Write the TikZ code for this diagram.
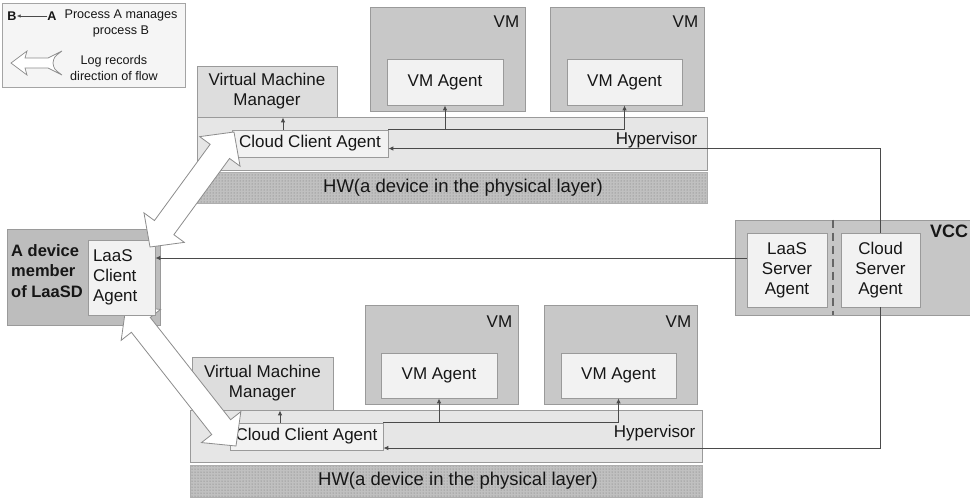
\documentclass[tikz,border=0pt]{standalone}
\usepackage{fontspec}
\setmainfont{Liberation Sans}
\usetikzlibrary{arrows.meta,calc,patterns}
\definecolor{edgec}{HTML}{9A9A9A}
\definecolor{vmfill}{HTML}{C8C8C8}
\definecolor{agentfill}{HTML}{F2F2F2}
\definecolor{hypfill}{HTML}{E6E6E6}
\definecolor{vmmfill}{HTML}{DDDDDD}
\definecolor{devfill}{HTML}{BDBDBD}
\definecolor{vccfill}{HTML}{C6C6C6}
\definecolor{legfill}{HTML}{F5F5F5}
\definecolor{hwfill}{HTML}{C0C0C0}
\definecolor{hwdot}{HTML}{727272}
\definecolor{linec}{HTML}{4A4A4A}
\definecolor{txtc}{HTML}{161616}
\definecolor{arrowedge}{HTML}{8C8C8C}
\newcommand\hollowtwoarrow[2]{%
  \coordinate (h1) at ($(#1)!24pt!(#2)$);
  \coordinate (h2) at ($(#2)!24pt!(#1)$);
  \filldraw[bigarrow] (#1) -- ($(h1)!25pt!90:(#2)$) -- ($(h1)!12pt!90:(#2)$)
    -- ($(h2)!12pt!-90:(#1)$) -- ($(h2)!25pt!-90:(#1)$) -- (#2)
    -- ($(h2)!25pt!90:(#1)$) -- ($(h2)!12pt!90:(#1)$)
    -- ($(h1)!12pt!-90:(#2)$) -- ($(h1)!25pt!-90:(#2)$) -- cycle;}
\begin{document}
\begin{tikzpicture}[x=1pt,y=-1pt,
  base/.style={draw=edgec, line width=0.8pt, inner sep=0pt, text=txtc,
    font=\fontsize{17}{20}\selectfont},
  vmbox/.style={base, fill=vmfill},
  agent/.style={base, fill=agentfill},
  hypbox/.style={base, fill=hypfill},
  vmmbox/.style={base, fill=vmmfill, align=center},
  hwbox/.style={base, draw=edgec!80, preaction={fill=hwfill}, pattern=dots, pattern color=hwdot},
  lbl/.style={inner sep=0pt, text=txtc, font=\fontsize{17}{20}\selectfont},
  small/.style={inner sep=0pt, text=txtc, font=\fontsize{12.6}{16}\selectfont, align=center},
  conn/.style={draw=linec, line width=0.9pt, -{Latex[length=5pt,width=4.5pt]}},
  bigarrow/.style={draw=arrowedge, fill=white, line width=0.8pt, line join=miter},
  divider/.style={draw=linec!85, line width=2pt, dash pattern=on 8pt off 5pt}]
\useasboundingbox (0,0) rectangle (970,499);

% ---------- legend ----------
\node[base, draw=edgec!90, fill=legfill, minimum width=183pt, minimum height=84pt] (legend) at (93.5,45) {};
\node[small, font=\bfseries\fontsize{12.6}{16}\selectfont] (legB) at (12,16) {B};
\node[small, font=\bfseries\fontsize{12.6}{16}\selectfont] (legA) at (52,16) {A};
\draw[conn, line width=0.7pt, -{Latex[length=4pt,width=3.5pt]}] (legA.west) -- (legB.east);
\node[small] (legt1) at (121,23.5) {Process A manages\\process B};
\node[small] (legt2) at (114,67.5) {Log records\\direction of flow};
\filldraw[bigarrow, line width=0.7pt] (11,63) -- (27,51) -- (25,58) -- (48,58) -- (62,51)
  .. controls (54,57) .. (53,63) .. controls (54,69) .. (62,75) -- (48,68) -- (25,68) -- (27,75) -- cycle;

% ---------- top host ----------
\node[vmbox, minimum width=155pt, minimum height=104pt] (vm1) at (447.5,59) {};
\node[vmbox, minimum width=154pt, minimum height=104pt] (vm2) at (627,59) {};
\node[lbl, anchor=east] (vm1t) at ([xshift=-6pt,yshift=-15pt]vm1.north east) {VM};
\node[lbl, anchor=east] (vm2t) at ([xshift=-6pt,yshift=-15pt]vm2.north east) {VM};
\node[agent, minimum width=116pt, minimum height=46pt] (vma1) at (445,82) {VM Agent};
\node[agent, minimum width=115pt, minimum height=46pt] (vma2) at (624.5,82) {VM Agent};
\node[vmmbox, minimum width=140pt, minimum height=51pt] (vmm1) at (267,91.5) {Virtual Machine\\Manager};
\node[hypbox, minimum width=510pt, minimum height=53pt] (hyp1) at (452,143.5) {};
\node[lbl, anchor=east] (hyp1t) at ([xshift=-10pt,yshift=-23pt]hyp1.north east) {Hypervisor};
\node[agent, minimum width=156pt, minimum height=27pt] (cca1) at (310,143.5) {Cloud Client Agent};
\node[hwbox, minimum width=510pt, minimum height=31pt] (hw1) at (452,187.5) {};
\node[lbl, font=\fontsize{18.5}{22}\selectfont] (hw1t) at ([xshift=11pt]hw1.center) {HW(a device in the physical layer)};

% ---------- bottom host ----------
\node[vmbox, minimum width=153pt, minimum height=99pt] (vm3) at (441.5,354.5) {};
\node[vmbox, minimum width=153pt, minimum height=99pt] (vm4) at (620.5,354.5) {};
\node[lbl, anchor=east] (vm3t) at ([xshift=-6pt,yshift=-17pt]vm3.north east) {VM};
\node[lbl, anchor=east] (vm4t) at ([xshift=-6pt,yshift=-17pt]vm4.north east) {VM};
\node[agent, minimum width=116pt, minimum height=45pt] (vma3) at (439,375.5) {VM Agent};
\node[agent, minimum width=115pt, minimum height=45pt] (vma4) at (618.5,375.5) {VM Agent};
\node[vmmbox, minimum width=141pt, minimum height=53pt] (vmm2) at (262.5,383.5) {Virtual Machine\\Manager};
\node[hypbox, minimum width=512pt, minimum height=52pt] (hyp2) at (446,436) {};
\node[lbl, anchor=east] (hyp2t) at ([xshift=-7pt,yshift=-23pt]hyp2.north east) {Hypervisor};
\node[agent, minimum width=153pt, minimum height=27pt] (cca2) at (306.5,436.5) {Cloud Client Agent};
\node[hwbox, minimum width=512pt, minimum height=32pt] (hw2) at (446,481) {};
\node[lbl, font=\fontsize{18.5}{22}\selectfont] (hw2t) at ([xshift=12pt]hw2.center) {HW(a device in the physical layer)};

% ---------- VCC ----------
\node[base, fill=vccfill, minimum width=235pt, minimum height=95pt] (vcc) at (852.5,267.5) {};
\node[lbl, anchor=east, font=\bfseries\fontsize{18}{21}\selectfont] (vcct) at ([xshift=-2pt,yshift=-12pt]vcc.north east) {VCC};
\draw[divider] ([xshift=-19.5pt]vcc.north) -- ([xshift=-19.5pt]vcc.south);
\node[agent, align=center, minimum width=80pt, minimum height=74pt] (lsa) at (787,270) {LaaS\\Server\\Agent};
\node[agent, align=center, minimum width=79pt, minimum height=74pt] (csa) at (880.5,270) {Cloud\\Server\\Agent};

% ---------- LaaSD device ----------
\node[base, fill=devfill, minimum width=153pt, minimum height=96pt] (dev) at (83.5,277) {};
\node[lbl, anchor=west, align=left, font=\bfseries\fontsize{16.5}{20.5}\selectfont] (devt) at (11,271) {A device\\member\\of LaaSD};

% ---------- connectors ----------
\draw[conn] (cca1.north east) -| (vma2.south);
\draw[conn] (vma1.south |- cca1.north) -- (vma1.south);
\draw[conn] ([xshift=-27pt]cca1.north) -- ([xshift=-27pt]cca1.north |- vmm1.south);
\draw[conn] (csa.north) |- ([yshift=-5pt]cca1.east);
\draw[conn] (cca2.north east) -| (vma4.south);
\draw[conn] (vma3.south |- cca2.north) -- (vma3.south);
\draw[conn] ([xshift=-26.5pt]cca2.north) -- ([xshift=-26.5pt]cca2.north |- vmm2.south);
\draw[conn] (csa.south) |- ([yshift=-11.5pt]cca2.east);

% ---------- log flow arrows & LaaS client ----------
\coordinate (b1) at (126,306);
\coordinate (b2) at (236,446);
\hollowtwoarrow{b1}{b2}
\node[agent, align=left, minimum width=67pt, minimum height=75pt, text width=57pt] (lca) at (121.5,277.5) {LaaS\\Client\\Agent};
\draw[conn] ([yshift=12pt]lsa.west) -- ([yshift=12pt]lsa.west -| lca.east);
\coordinate (t1) at (234,132);
\coordinate (t2) at (150,247);
\hollowtwoarrow{t1}{t2}
\end{tikzpicture}
\end{document}
